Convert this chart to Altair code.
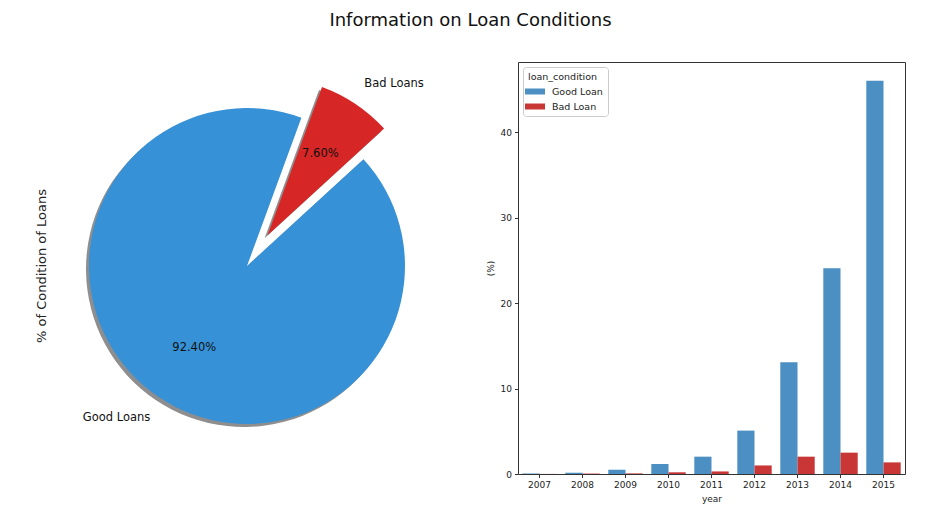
import math
import altair as alt
import pandas as pd

# ---------------- data ----------------
pie_labels = ["Good Loans", "Bad Loans"]
pie_pct = [92.4, 7.6]

years = [2007, 2008, 2009, 2010, 2011, 2012, 2013, 2014, 2015]
conditions = ["Good Loan", "Bad Loan"]
good_pct = [0.05, 0.15, 0.5, 1.17, 2.03, 5.08, 13.1, 24.1, 46.05]
bad_pct = [0.01, 0.05, 0.07, 0.2, 0.3, 1.0, 2.03, 2.5, 1.36]

# ---------------- style ----------------
FONT = "DejaVu Sans"
PIE_COLORS = ["#3791D7", "#D72626"]
BAR_COLORS = ["#4B8FC3", "#C83636"]
START_DEG = 47.5          # where the first wedge begins (clockwise from 12 o'clock)
R = 158                   # pie radius in px
PIE_W, PIE_H = 358, 408
CX, CY = PIE_W / 2, PIE_H / 2
EXPLODE = 37              # px offset of the exploded wedge
SH_DX, SH_DY = -3, 3      # shadow offset

a0 = math.radians(START_DEG)
theta_scale = alt.Scale(domain=[0, 100], range=[a0, a0 + 2 * math.pi])

# direction of the exploded (bad) wedge, from the data
bad_mid = START_DEG + (sum(pie_pct) - pie_pct[1] / 2) / sum(pie_pct) * 360
EX = CX + EXPLODE * math.sin(math.radians(bad_mid))
EY = CY - EXPLODE * math.cos(math.radians(bad_mid))

pie_df = pd.DataFrame({"label": pie_labels, "pct": pie_pct, "order": [0, 1]})

base = (
    alt.Chart(pie_df)
    .transform_window(end="sum(pct)", sort=[alt.SortField("order")], frame=[None, 0])
    .transform_calculate(
        start="datum.end - datum.pct",
        mid="datum.end - datum.pct / 2",
        txt="format(datum.pct, '.2f') + '%'",
    )
)


def wedge(label, cx, cy, color, opacity=1.0):
    return (
        base.transform_filter(alt.datum.label == label)
        .mark_arc(radius=R, color=color, opacity=opacity)
        .encode(
            theta=alt.Theta("start:Q", scale=theta_scale),
            theta2="end:Q",
            x=alt.value(cx),
            y=alt.value(cy),
        )
    )


def label_text(label, cx, cy, field, radius, align, dy=0):
    return (
        base.transform_filter(alt.datum.label == label)
        .mark_text(radius=radius, align=align, baseline="middle", dy=dy,
                   font=FONT, fontSize=11.5, color="#111")
        .encode(
            theta=alt.Theta("mid:Q", scale=theta_scale),
            text=alt.Text(field),
            x=alt.value(cx),
            y=alt.value(cy),
        )
    )


pie = alt.layer(
    wedge("Good Loans", CX + SH_DX, CY + SH_DY, "#7a7a7a", 0.85),
    wedge("Bad Loans", EX + SH_DX, EY + SH_DY, "#7a7a7a", 0.85),
    wedge("Good Loans", CX, CY, PIE_COLORS[0]),
    wedge("Bad Loans", EX, EY, PIE_COLORS[1]),
    label_text("Good Loans", CX, CY, "txt:N", R * 0.6, "center", 3),
    label_text("Bad Loans", EX, EY, "txt:N", R * 0.6, "center", -3),
    label_text("Good Loans", CX, CY, "label:N", R * 1.1, "right", 8),
    label_text("Bad Loans", EX, EY, "label:N", R * 1.1, "left", -7),
).properties(
    width=PIE_W,
    height=PIE_H,
    title=alt.TitleParams(
        "% of Condition of Loans", orient="left", anchor="middle",
        fontSize=13, fontWeight="normal", font=FONT, color="#222", offset=19,
    ),
)

bar_df = pd.DataFrame({
    "year": years * 2,
    "loan_condition": [conditions[0]] * len(years) + [conditions[1]] * len(years),
    "pct": good_pct + bad_pct,
})

bars = (
    alt.Chart(bar_df)
    .mark_bar()
    .encode(
        x=alt.X("year:O", scale=alt.Scale(paddingInner=0.2, paddingOuter=0.1),
                axis=alt.Axis(title="year", labelAngle=0)),
        xOffset=alt.XOffset("loan_condition:N", sort=conditions,
                            scale=alt.Scale(paddingInner=0, paddingOuter=0)),
        y=alt.Y("pct:Q", scale=alt.Scale(domain=[0, 48.25], nice=False),
                axis=alt.Axis(title="(%)", values=[0, 10, 20, 30, 40])),
        color=alt.Color(
            "loan_condition:N",
            sort=conditions,
            scale=alt.Scale(domain=conditions, range=BAR_COLORS),
            legend=alt.Legend(
                title="loan_condition", orient="top-left", offset=5,
                symbolType="M-1.67,-0.5L1.67,-0.5L1.67,0.5L-1.67,0.5Z",
                symbolSize=144, labelOffset=10, rowPadding=3,
                strokeColor="#cccccc", fillColor="white", cornerRadius=3,
                padding=5, titlePadding=3,
            ),
        ),
    )
    .properties(width=387, height=412,
                view=alt.ViewBackground(stroke="#333333", strokeWidth=1))
)

chart = (
    alt.hconcat(pie, bars, spacing=58)
    .resolve_legend(color="independent")
    .properties(
        title=alt.TitleParams(
            "Information on Loan Conditions", anchor="middle", fontSize=18,
            fontWeight="normal", font=FONT, color="#111", offset=32,
        ),
        padding={"left": 27, "top": 3, "right": 5, "bottom": 0},
    )
    .configure_view(stroke="transparent")
    .configure_axis(
        labelFont=FONT, titleFont=FONT, labelFontSize=9, titleFontSize=9,
        titleFontWeight="normal", labelColor="#222", titleColor="#222",
        tickColor="#333", tickSize=3.5, labelPadding=3, titlePadding=5,
        domain=False, grid=False,
    )
    .configure_legend(
        labelFont=FONT, titleFont=FONT, labelFontSize=9.5, titleFontSize=9.5,
        titleFontWeight="normal", labelColor="#222", titleColor="#222",
    )
)

chart.save("out.html", embed_options={"renderer": "svg", "actions": False})
